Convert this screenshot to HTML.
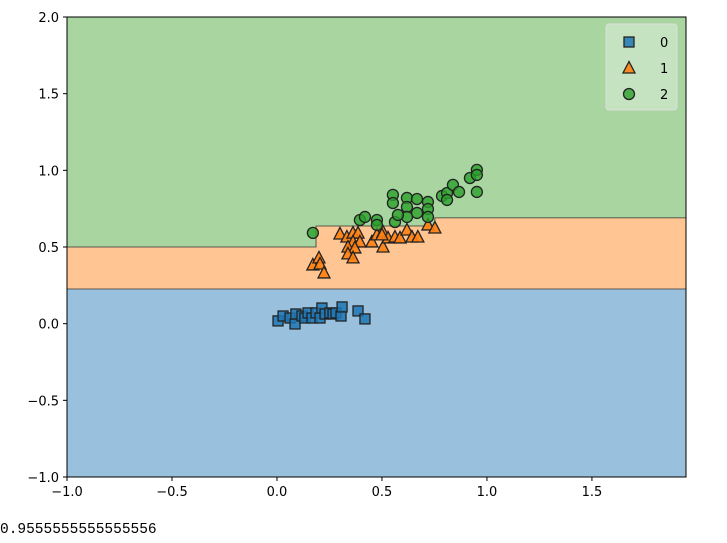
<!DOCTYPE html>
<html><head><meta charset="utf-8">
<style>
body{margin:0;background:#fff;width:727px;height:543px;overflow:hidden;font-family:"DejaVu Sans","Liberation Sans",sans-serif;}
#acc{position:absolute;left:0;top:522px;font-family:"Liberation Mono",monospace;font-size:14.5px;color:#000;}
</style></head><body>
<svg id="chart" width="727" height="543" style="position:absolute;left:0;top:0"></svg>
<div id="acc">0.9555555555555556</div>
<script>
const xTicks=[-1.0,-0.5,0.0,0.5,1.0,1.5];
const yTicks=[-1.0,-0.5,0.0,0.5,1.0,1.5,2.0];
const boundary01=0.226;
const b12Y=[0.50,0.637,0.69];
const b12StepX=[0.186,0.752];
const c0x=[0.005,0.029,0.062,0.086,0.090,0.119,0.133,0.148,0.167,0.186,0.205,0.214,0.229,0.252,0.267,0.281,0.305,0.310,0.386,0.419];
const c0y=[0.018,0.050,0.037,-0.002,0.063,0.050,0.037,0.070,0.037,0.070,0.037,0.102,0.063,0.070,0.063,0.070,0.050,0.109,0.083,0.031];
const c1x=[0.171,0.200,0.205,0.224,0.300,0.333,0.362,0.386,0.362,0.395,0.338,0.371,0.338,0.362,0.452,0.476,0.505,0.505,0.529,0.562,0.586,0.619,0.643,0.671,0.719,0.752,0.500];
const c1y=[0.383,0.429,0.389,0.331,0.585,0.565,0.591,0.591,0.533,0.533,0.500,0.494,0.455,0.429,0.533,0.579,0.500,0.598,0.559,0.565,0.559,0.611,0.565,0.565,0.644,0.624,0.579];
const c2x=[0.171,0.395,0.419,0.476,0.476,0.562,0.552,0.552,0.619,0.619,0.619,0.667,0.667,0.719,0.719,0.719,0.786,0.810,0.810,0.838,0.867,0.919,0.952,0.952,0.952,0.576];
const c2y=[0.592,0.676,0.696,0.676,0.644,0.663,0.840,0.787,0.820,0.761,0.696,0.813,0.722,0.794,0.748,0.696,0.833,0.852,0.807,0.905,0.859,0.950,1.003,0.970,0.859,0.709];
const X0=-1,X1=1.948,Y0=-1,Y1=2;
const L=67,R=686,T=17,B=477;
const sx=v=>L+(v-X0)/(X1-X0)*(R-L);
const sy=v=>B-(v-Y0)/(Y1-Y0)*(B-T);
const NS="http://www.w3.org/2000/svg";
const svg=document.getElementById('chart');
function mk(t,a,p){const e=document.createElementNS(NS,t);for(const k in a)e.setAttribute(k,a[k]);(p||svg).appendChild(e);return e;}
let e;
e=mk('rect',{x:L,y:sy(boundary01),width:R-L,height:B-sy(boundary01),fill:'#99c0dd'});


const step=`H${sx(b12StepX[1])}V${sy(b12Y[1])}H${sx(b12StepX[0])}V${sy(b12Y[0])}H${L}Z`;
e=mk('path',{d:`M${L},${sy(boundary01)}H${R}V${sy(b12Y[2])}`+step,fill:'#ffc593'});


e=mk('path',{d:`M${L},${T}H${R}V${sy(b12Y[2])}`+step,fill:'#a8d5a0'});


mk('path',{d:`M${R},${sy(b12Y[2])}H${sx(b12StepX[1])}V${sy(b12Y[1])}H${sx(b12StepX[0])}V${sy(b12Y[0])}H${L}`,fill:'none',stroke:'#333',"stroke-width":0.8});
mk('line',{x1:L,x2:R,y1:sy(boundary01),y2:sy(boundary01),stroke:'#333',"stroke-width":0.8});
function sq(x,y,g){return mk('rect',{x:x-5,y:y-5,width:10,height:10,fill:'#1f77b4',"fill-opacity":0.85,stroke:'#222',"stroke-width":1.3},g);}
function tri(x,y,g){return mk('path',{d:`M${x},${y-6.5}L${x+6},${y+5}L${x-6},${y+5}Z`,fill:'#ff7f0e',"fill-opacity":0.9,stroke:'#222',"stroke-width":1.3},g);}
function cir(x,y,g){return mk('circle',{cx:x,cy:y,r:5.5,fill:'#2ca02c',"fill-opacity":0.8,stroke:'#222',"stroke-width":1.3},g);}
const g0=mk('g',{});
c0x.forEach((v,i)=>{const p=sq(sx(v),sy(c0y[i]),g0);

});
const g1=mk('g',{});
c1x.forEach((v,i)=>{const p=tri(sx(v),sy(c1y[i]),g1);

});
const g2=mk('g',{});
c2x.forEach((v,i)=>{const p=cir(sx(v),sy(c2y[i]),g2);

});
e=mk('rect',{x:L,y:T,width:R-L,height:B-T,fill:'none',stroke:'#000',"stroke-width":1});


xTicks.forEach(t=>{const x=sx(t);mk('line',{x1:x,x2:x,y1:B,y2:B+4,stroke:'#000'});
const tx=mk('text',{x:x,y:B+19,"text-anchor":"middle","font-size":13,fill:'#000'});tx.textContent=t.toFixed(1).replace('-','−');

});
yTicks.forEach(t=>{const y=sy(t);mk('line',{x1:L-4,x2:L,y1:y,y2:y,stroke:'#000'});
const tx=mk('text',{x:L-8,y:y+5,"text-anchor":"end","font-size":13,fill:'#000'});tx.textContent=t.toFixed(1).replace('-','−');

});
const lg=mk('g',{});
mk('rect',{x:606,y:24,width:71,height:86,rx:3,fill:'#fff',"fill-opacity":0.35,stroke:'#ddd'},lg);
const labels=['0','1','2'];const fns=[sq,tri,cir];
labels.forEach((s,i)=>{const y=42+i*26;const gi=mk('g',{},lg);


fns[i](629,y,gi);const t=mk('text',{x:660,y:y+5,"font-size":13,fill:'#000'},gi);t.textContent=s;});
</script>
</body></html>
